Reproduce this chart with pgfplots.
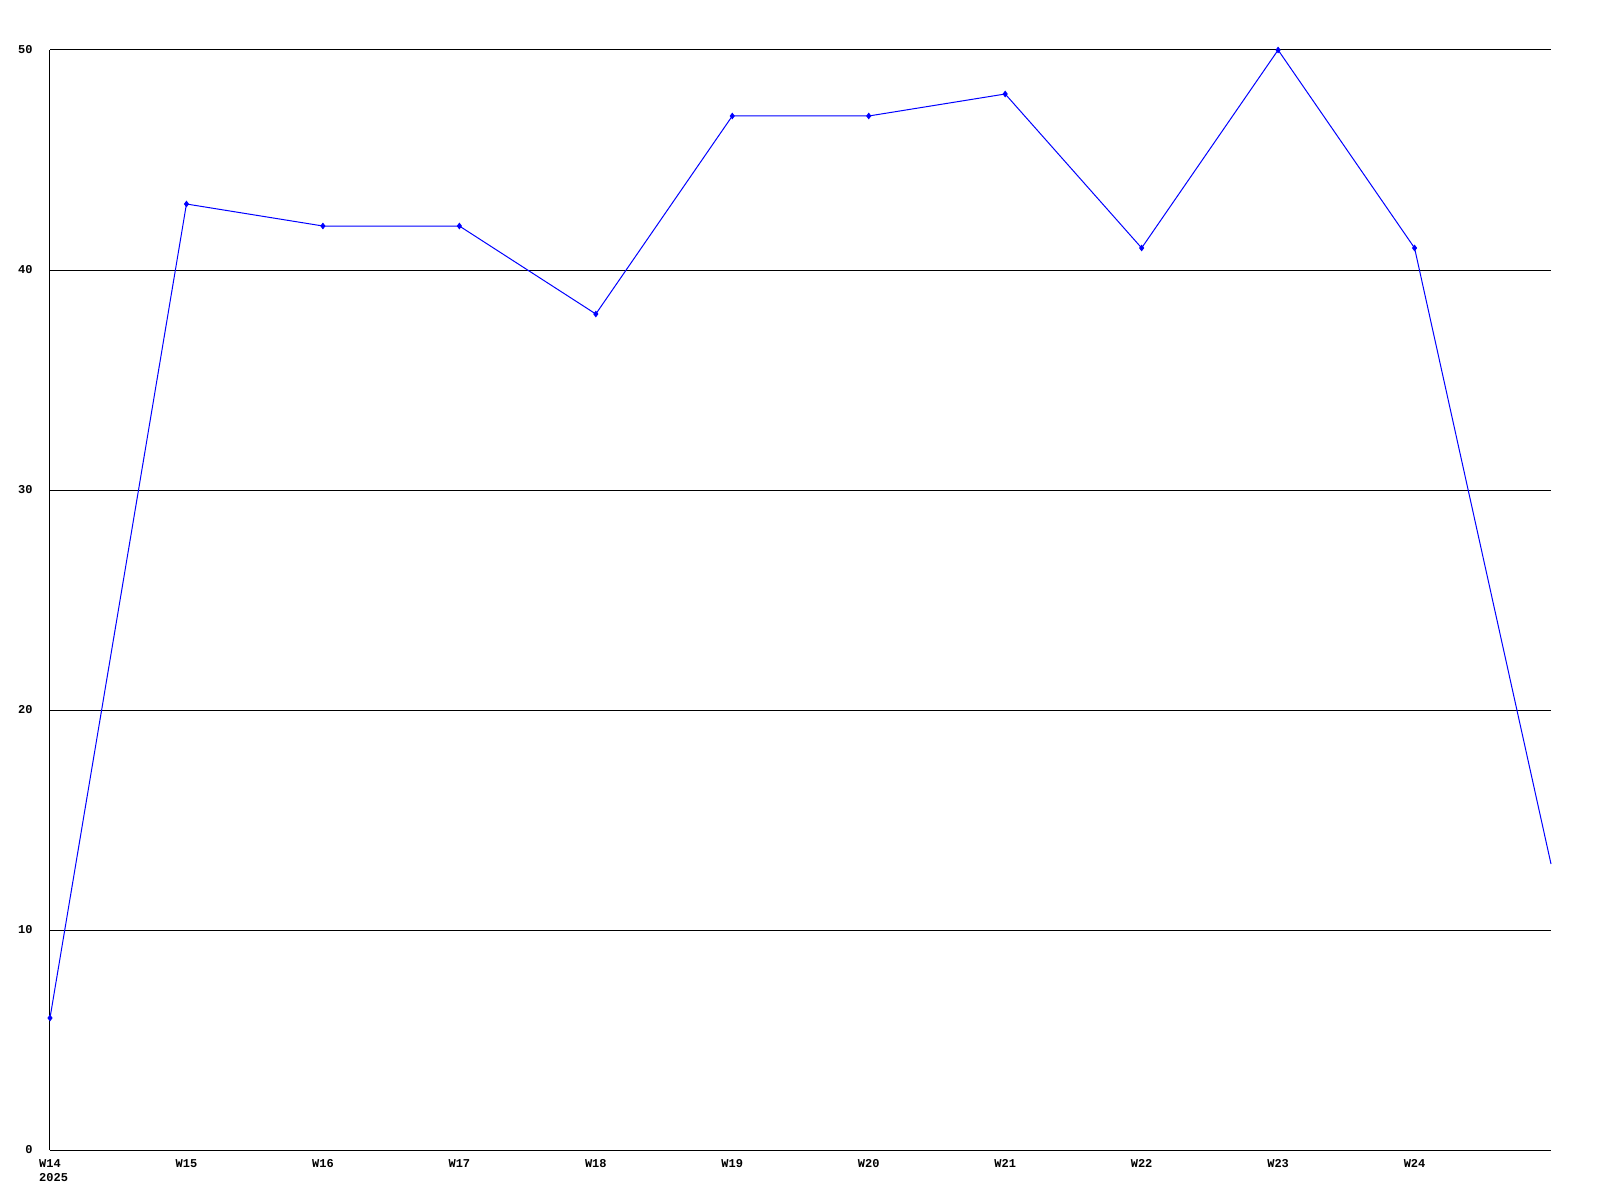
\documentclass[border=0pt]{standalone}
\usepackage{pgfplots}
\pgfplotsset{compat=1.18}
\usepackage{fontspec}
\newfontfamily\monofont{Liberation Mono}
\begin{document}
\begin{tikzpicture}
\path[use as bounding box] (-25pt,-25pt) rectangle (775pt,575pt);
\begin{axis}[
  at={(0,0)}, anchor=south west,
  scale only axis, width=750.5pt, height=550pt,
  xmin=0, xmax=11, ymin=0, ymax=50,
  axis lines*=left,
  axis line style={black, line width=0.5pt},
  xtick={0,1,2,3,4,5,6,7,8,9,10},
  xticklabels={{W14\\\makebox[0pt][l]{2025}},W15,W16,W17,W18,W19,W20,W21,W22,W23,W24},
  ytick={0,10,20,30,40,50},
  ymajorgrids,
  grid style={black, line width=0.5pt},
  major tick length=0pt,
  /pgf/number format/assume math mode=true,
  tick label style={font=\monofont\bfseries\fontsize{6}{7}\selectfont, inner sep=0pt},
  xticklabel style={anchor=north, yshift=-4.5pt, align=left},
  yticklabel style={anchor=east, xshift=-8.5pt},
  clip=false,
]
\addplot[blue, line width=0.5pt, mark=diamond*, mark size=1.3pt, mark options={solid, fill=blue}]
  coordinates {(0,6) (1,43) (2,42) (3,42) (4,38) (5,47) (6,47) (7,48) (8,41) (9,50) (10,41)};
\addplot[blue, line width=0.5pt] coordinates {(10,41) (11,13)};
\end{axis}
\end{tikzpicture}
\end{document}
